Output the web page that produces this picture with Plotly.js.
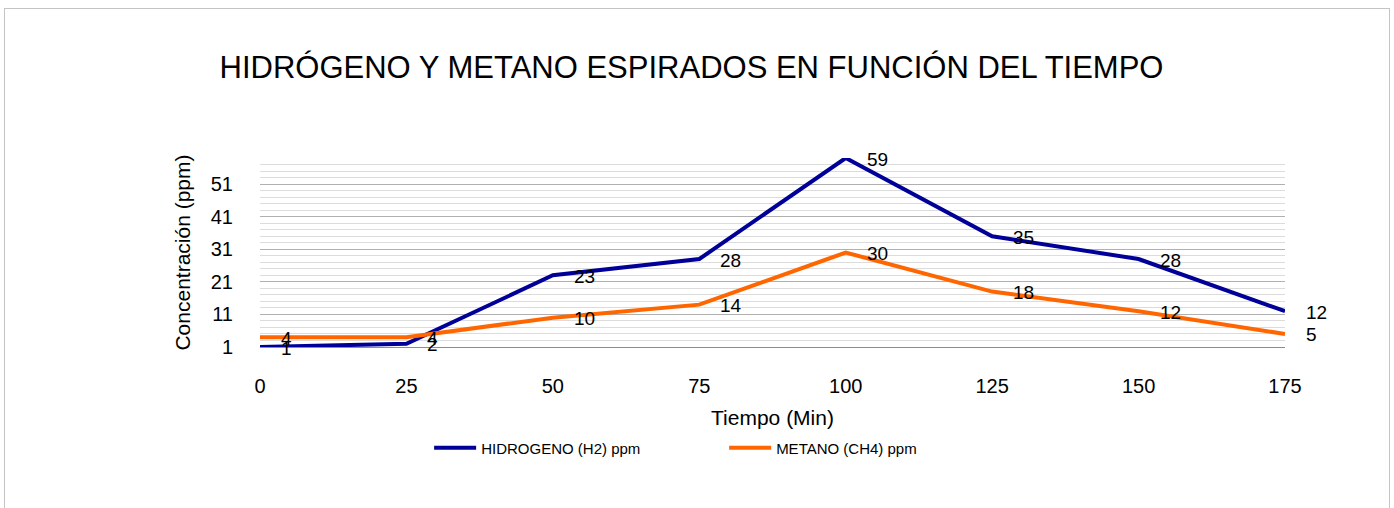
<!DOCTYPE html>
<html>
<head>
<meta charset="utf-8">
<script src="https://cdn.plot.ly/plotly-3.0.1.min.js"></script>
<style>
  html, body { margin: 0; padding: 0; background: #fff; }
  #wrap { position: relative; width: 1394px; height: 508px; overflow: hidden; }
  #chart { position: absolute; left: 0; top: 0; width: 1394px; height: 508px; }
  #frame { position: absolute; left: 4px; top: 8px; width: 1384px; height: 520px;
           border: 1px solid #c4c4c4; pointer-events: none; }
</style>
</head>
<body>
<div id="wrap">
  <div id="chart"></div>
  <div id="frame"></div>
</div>
<script>
// ---- data ----
const tiempo = [0, 25, 50, 75, 100, 125, 150, 175];
const hidrogeno = [1, 2, 23, 28, 59, 35, 28, 12];
const metano = [4, 4, 10, 14, 30, 18, 12, 5];
const yTicks = [1, 11, 21, 31, 41, 51];
const seriesNames = ['HIDROGENO (H2) ppm', 'METANO (CH4) ppm'];
const titleText = 'HIDRÓGENO Y METANO ESPIRADOS EN FUNCIÓN DEL TIEMPO';
const xTitle = 'Tiempo (Min)';
const yTitle = 'Concentración (ppm)';

const FONT = 'Liberation Sans, Arial, sans-serif';
const colors = ['#000099', '#ff6600'];

const traces = [hidrogeno, metano].map((vals, i) => ({
  type: 'scatter',
  mode: 'lines',
  x: tiempo,
  y: vals,
  name: seriesNames[i],
  line: { color: colors[i], width: 4 },
  cliponaxis: false
}));

const annotations = [];
[hidrogeno, metano].forEach((vals) => {
  vals.forEach((v, j) => {
    annotations.push({
      x: tiempo[j], y: v, xref: 'x', yref: 'y',
      text: String(v), showarrow: false,
      xanchor: 'left', yanchor: 'middle',
      xshift: 19, yshift: -1,
      font: { family: FONT, size: 19, color: '#000' }
    });
  });
});

const layout = {
  width: 1394, height: 508, autosize: false,
  paper_bgcolor: '#fff', plot_bgcolor: '#fff',
  margin: { l: 260, r: 109, t: 158, b: 161 },
  font: { family: FONT, color: '#000' },
  title: {
    text: titleText,
    font: { family: FONT, size: 31, color: '#000' },
    xref: 'paper', x: 0.421, xanchor: 'center',
    yref: 'container', y: 0.868, yanchor: 'middle'
  },
  xaxis: {
    range: [0, 175],
    tickmode: 'array', tickvals: tiempo, ticktext: tiempo.map(String),
    showgrid: false, zeroline: false,
    showline: true, linecolor: '#8c8c8c', linewidth: 1,
    ticks: 'outside', ticklen: 21, tickcolor: 'rgba(0,0,0,0)',
    tickfont: { family: FONT, size: 20, color: '#000' },
    title: { text: xTitle, font: { family: FONT, size: 21, color: '#000' }, standoff: 14 }
  },
  yaxis: {
    range: [1, 59],
    tickmode: 'array', tickvals: yTicks, ticktext: yTicks.map(String),
    showgrid: true, gridcolor: '#b0b0b0', gridwidth: 1,
    minor: { tick0: 1, dtick: 2, showgrid: true, gridcolor: '#dcdcdc', gridwidth: 1 },
    zeroline: false, showline: false,
    ticks: 'outside', ticklen: 22, tickcolor: 'rgba(0,0,0,0)',
    tickfont: { family: FONT, size: 20, color: '#000' },
    title: { text: yTitle, font: { family: FONT, size: 21, color: '#000' }, standoff: 14 }
  },
  showlegend: true,
  legend: {
    orientation: 'h',
    x: 0.165, xanchor: 'left',
    y: -0.534, yanchor: 'middle',
    font: { family: FONT, size: 15, color: '#000' },
    itemwidth: 42,
    entrywidth: 238, entrywidthmode: 'pixels',
    bgcolor: 'rgba(0,0,0,0)'
  },
  annotations: annotations
};

Plotly.newPlot('chart', traces, layout, { displayModeBar: false, staticPlot: true });
</script>
</body>
</html>
